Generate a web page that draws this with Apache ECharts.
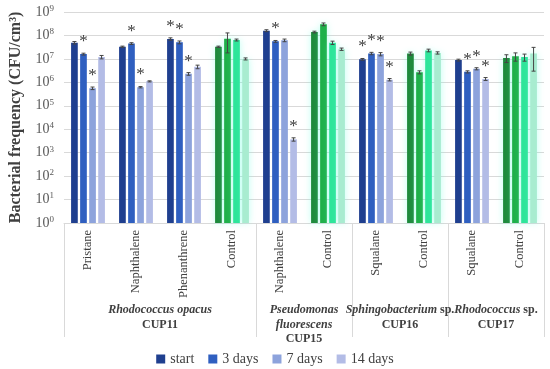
<!DOCTYPE html>
<html><head><meta charset="utf-8">
<script src="https://cdn.jsdelivr.net/npm/echarts@6/dist/echarts.min.js"></script>
<style>html,body{margin:0;padding:0;background:#fff}#c{width:550px;height:369px}</style>
</head><body><div id="c"></div>
<script>
// ---- data ----
const categories = ['Pristane','Naphthalene','Phenanthrene','Control','Naphthalene','Control','Squalane','Control','Squalane','Control'];
const seriesNames = ['start','3 days','7 days','14 days'];
const startVals = [4.9e7, 3.3e7, 7.1e7, 3.3e7, 1.6e8, 1.4e8, 9.6e6, 1.7e7, 8.9e6, 1.1e7];
const day3Vals  = [1.6e7, 4.5e7, 5.1e7, 7.3e7, 5.6e7, 3.0e8, 1.7e7, 2.7e6, 2.8e6, 1.3e7];
const day7Vals  = [5.6e5, 6.2e5, 2.3e6, 6.4e7, 6.2e7, 4.9e7, 1.6e7, 2.3e7, 3.8e6, 1.2e7];
const day14Vals = [1.2e7, 1.1e6, 4.6e6, 1.0e7, 3.7e3, 2.6e7, 1.3e6, 1.8e7, 1.4e6, 1.7e7];
const startErr  = [6e6, 2e6, 8e6, 2e6, 1.5e7, 1.2e7, 8e5, 2.5e6, 8e5, 4e6];
const day3Err   = [1.5e6, 4e6, 7e6, 5.5e7, 5e6, 4e7, 2e6, 4e5, 3e5, 5e6];
const day7Err   = [7e4, 4e4, 3e5, 6e6, 8e6, 8e6, 2.5e6, 3e6, 4e5, 4e6];
const day14Err  = [2e6, 6e4, 8e5, 1e6, 6e2, 3e6, 1.5e5, 2e6, 2e5, 1.4e7];
const startSig  = [0,0,1,0,0,0,1,0,0,0];
const day3Sig   = [1,1,1,0,1,0,1,0,1,0];
const day7Sig   = [1,1,1,0,0,0,1,0,1,0];
const day14Sig  = [0,0,0,0,1,0,1,0,1,0];
const yTickExponents = [0,1,2,3,4,5,6,7,8,9];
const groupItalic = [['Rhodococcus opacus'], ['Pseudomonas','fluorescens'], ['Sphingobacterium'], ['Rhodococcus']];
const groupSuffix = ['', '', ' sp.', ' sp.'];
const groupStrain = ['CUP11','CUP15','CUP16','CUP17'];
const groupSizes = [4,2,2,2];

// ---- styles ----
const FONT = 'Liberation Serif';
const treatColors = ['#1f3f8f','#2f5fc0','#8da3dc','#b3bce6'];
const controlColors = ['#1e8a3c','#1fb04a','#2ee59a','#a8ecd0'];
const BW = 6.7, GAP_R = 0.35;
const total = 4*BW + 3*BW*GAP_R;
const offsets = [0,1,2,3].map(k => -total/2 + BW/2 + k*(BW + BW*GAP_R));

const vals = [startVals, day3Vals, day7Vals, day14Vals];
const errs = [startErr, day3Err, day7Err, day14Err];
const sigs = [startSig, day3Sig, day7Sig, day14Sig];

// group axis (boundary positions)
const nCat = categories.length;
const groupAxisData = new Array(nCat + 1).fill('');
const sepIdx = [0];
let acc = 0;
groupSizes.forEach((s, g) => {
  const lines = groupItalic[g].map((t, j) => '{i|' + t + '}' + (j === groupItalic[g].length - 1 && groupSuffix[g] ? '{b|' + groupSuffix[g] + '}' : ''));
  lines.push('{b|' + groupStrain[g] + '}');
  groupAxisData[acc + s/2] = lines.join('\n');
  acc += s;
  sepIdx.push(acc);
});

const series = [];
seriesNames.forEach((name, k) => {
  series.push({
    name, type: 'bar', xAxisIndex: 0, yAxisIndex: 0,
    barWidth: BW, barGap: (GAP_R*100) + '%',
    itemStyle: { color: treatColors[k] },
    label: {
      show: true, position: 'top', distance: 4,
      formatter: p => sigs[k][p.dataIndex] ? '*' : '',
      fontFamily: FONT, fontSize: 17, color: '#404040'
    },
    data: vals[k].map((v, i) => categories[i] === 'Control'
      ? { value: v, itemStyle: { color: controlColors[k], shadowColor: 'rgba(90,255,220,0.4)', shadowBlur: 7 } }
      : v)
  });
});
seriesNames.forEach((name, k) => {
  series.push({
    type: 'custom', xAxisIndex: 0, yAxisIndex: 0, z: 5,
    silent: true,
    data: vals[k].map((v, i) => [i, v - errs[k][i], v + errs[k][i]]),
    renderItem: (params, api) => {
      const i = api.value(0);
      const lo = api.coord([i, api.value(1)]);
      const hi = api.coord([i, api.value(2)]);
      const x = lo[0] + offsets[k];
      const c = 2;
      const st = { stroke: '#454545', lineWidth: 1 };
      return { type: 'group', children: [
        { type: 'line', shape: { x1: x, y1: lo[1], x2: x, y2: hi[1] }, style: st },
        { type: 'line', shape: { x1: x-c, y1: hi[1], x2: x+c, y2: hi[1] }, style: st },
        { type: 'line', shape: { x1: x-c, y1: lo[1], x2: x+c, y2: lo[1] }, style: st }
      ]};
    }
  });
});

const chart = echarts.init(document.getElementById('c'), null, { renderer: 'canvas' });
chart.setOption({
  animation: false,
  grid: { left: 57, right: 6, top: 12, bottom: 146 },
  legend: {
    top: 347, left: 'center', icon: 'rect', itemWidth: 9, itemHeight: 9, itemGap: 14,
    data: seriesNames,
    textStyle: { fontFamily: FONT, fontSize: 14, color: '#404040' }
  },
  xAxis: [{
    type: 'category', data: categories, boundaryGap: true,
    axisLine: { lineStyle: { color: '#d9d9d9' } },
    axisTick: { show: false },
    axisLabel: { rotate: 90, interval: 0, margin: 7, fontFamily: FONT, fontSize: 12.5, color: '#404040' }
  }, {
    type: 'category', data: groupAxisData, boundaryGap: false, position: 'bottom',
    axisLine: { show: false },
    axisTick: { show: true, length: 114, interval: (idx) => sepIdx.indexOf(idx) >= 0, lineStyle: { color: '#d9d9d9' } },
    axisLabel: {
      interval: 0, margin: 80, color: '#404040',
      rich: {
        i: { fontFamily: FONT, fontStyle: 'italic', fontWeight: 'bold', fontSize: 12, lineHeight: 14.5, color: '#404040' },
        b: { fontFamily: FONT, fontWeight: 'bold', fontSize: 12, lineHeight: 14.5, color: '#404040' }
      }
    }
  }],
  yAxis: {
    type: 'log', logBase: 10, min: 1, max: 1e9,
    name: 'Bacterial frequency (CFU/cm³)', nameLocation: 'middle', nameGap: 40,
    nameTextStyle: { fontFamily: FONT, fontWeight: 'bold', fontSize: 16, color: '#404040' },
    axisLine: { show: false }, axisTick: { show: false },
    splitLine: { lineStyle: { color: '#d9d9d9' } },
    axisLabel: {
      margin: 10,
      formatter: v => '{m|10}{s|' + yTickExponents[Math.round(Math.log10(v))] + '}',
      rich: {
        m: { fontFamily: FONT, fontSize: 14, color: '#595959', lineHeight: 16 },
        s: { fontFamily: FONT, fontSize: 9, color: '#595959', lineHeight: 9, verticalAlign: 'top' }
      }
    }
  },
  series
});
</script></body></html>
